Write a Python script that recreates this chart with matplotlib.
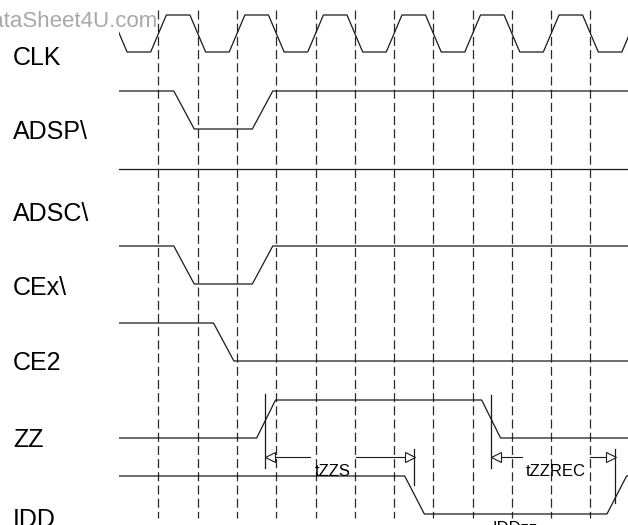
import numpy as np
import matplotlib.pyplot as plt
from matplotlib.patches import Rectangle

plt.rcParams['font.family'] = ['Liberation Sans', 'DejaVu Sans']
plt.rcParams['lines.scale_dashes'] = False

# signal rows (y in pixel rows of the page, time in half clock periods)
names = ["CLK", "ADSP\\", "ADSC\\", "CEx\\", "CE2", "ZZ", "IDD"]
label_y = [58, 132, 214, 288, 363, 440, 520]
high_y = [15, 91, 169, 246, 323, 400, 476]
low_y = [52, 129, 169, 284, 361, 438, 514]

# start level (1 = high) and centre of each edge
start_level = [1, 1, 1, 1, 1, 0, 1]
edges = [
    list(range(0, 14)),
    [1.65, 3.65],
    [],
    [1.65, 3.65],
    [2.66],
    [3.74, 9.47],
    [7.52, 12.67],
]
edge_w = [0.4, 0.52, 0.52, 0.52, 0.52, 0.48, 0.5]

# clock edge guides
guide_t = list(range(1, 13))

# timing markers
tick_t = [3.72, 7.51, 9.47, 12.63]
tick_top = [394, 449, 395, 449]
tick_bot = [468, 485, 468, 503]

# dimension arrows
dim_names = ["tZZS", "tZZREC"]
dim_from = [3.72, 9.47]
dim_to = [7.51, 12.63]
dim_mid = [5.44, 11.12]
dim_gap = [0.59, 0.87]


def wave(level, cs, w, t1=13.5):
    ts, ls = [-1.0], [level]
    for c in cs:
        ts += [c - w / 2, c + w / 2]
        ls += [level, 1 - level]
        level = 1 - level
    ts.append(t1)
    ls.append(level)
    return np.array(ts), np.array(ls)


fig = plt.figure(figsize=(6.28, 5.25), dpi=100)
ax = fig.add_axes([0, 0, 1, 1])
ax.set_xlim(-3.036, 12.956)
ax.set_ylim(525, 0)
ax.axis('off')
ink = '#1a1a1a'

# watermark
ax.text(0.97, 27, "DataSheet4U.com", fontsize=16, color='#a8a8a8',
        ha='right', va='baseline', zorder=0)

for t in guide_t:
    ax.plot([t, t], [10, 518], color='#2a2a2a', lw=0.9, dashes=(6.5, 3.0), zorder=1)

clip = Rectangle((0, 0), 13.5, 525, transform=ax.transData)
for i, name in enumerate(names):
    ts, ls = wave(start_level[i], edges[i], edge_w[i])
    ys = low_y[i] + ls * (high_y[i] - low_y[i])
    ln, = ax.plot(ts, ys, color=ink, lw=0.9, zorder=2)
    ln.set_clip_path(clip)
    ax.text(-2.705, label_y[i], name, fontsize=18, ha='left', va='center')

for t, a, b in zip(tick_t, tick_top, tick_bot):
    ax.plot([t, t], [a, b], color=ink, lw=0.9, zorder=2)

ay = 457
head = 0.115
for n, a, b, m, g in zip(dim_names, dim_from, dim_to, dim_mid, dim_gap):
    ax.plot([a, m - g], [ay, ay], color=ink, lw=0.8)
    ax.plot([m + g, b], [ay, ay], color=ink, lw=0.8)
    ax.plot(a + head, ay, marker='<', ms=6.5, mfc='white', mec=ink, mew=0.8)
    ax.plot(b - head, ay, marker='>', ms=6.5, mfc='white', mec=ink, mew=0.8)
    ax.text(m, 472, n, fontsize=12, ha='center', va='center', zorder=3)

ax.text(10.08, 521, "IDDzz", fontsize=12, ha='center', va='top')

fig.savefig('out.png', dpi=100)
